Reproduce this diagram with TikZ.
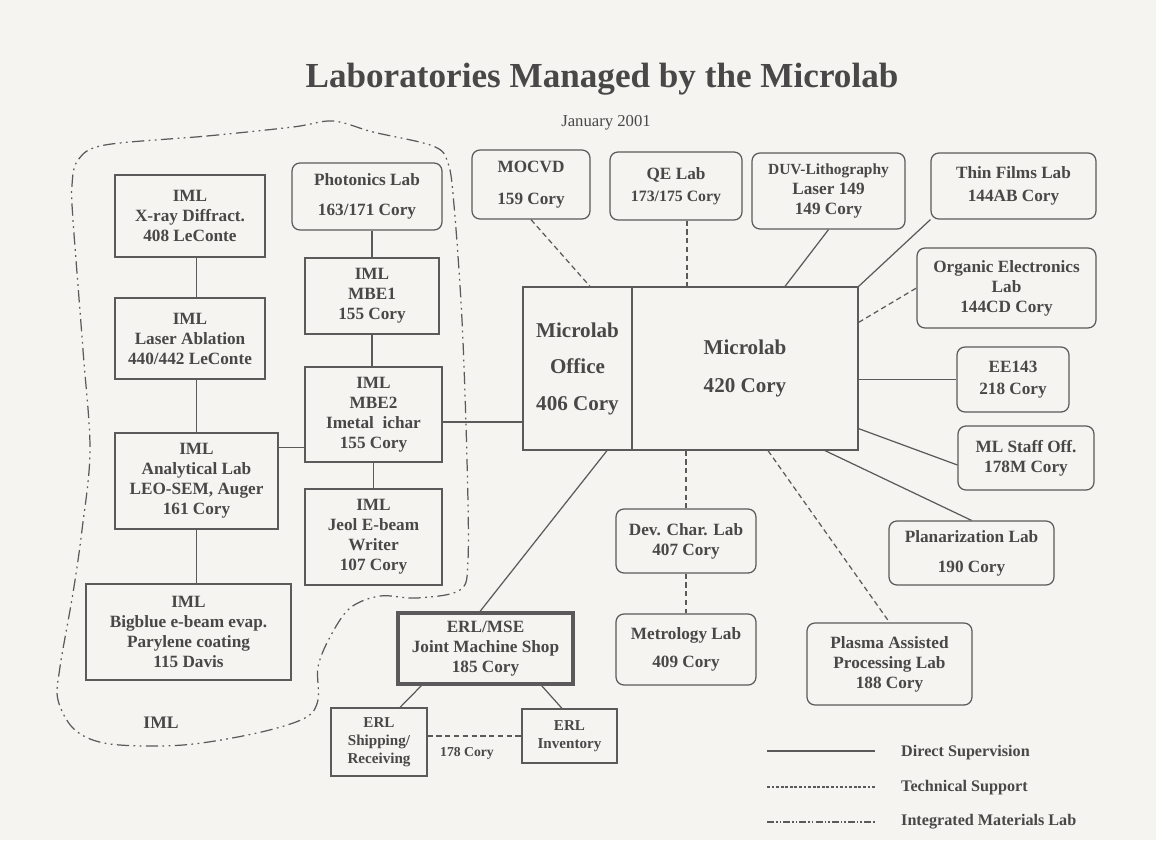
\documentclass[tikz,border=0pt]{standalone}
\usepackage{fontspec}
\setmainfont{Liberation Serif}
\definecolor{paper}{RGB}{245,244,240}
\definecolor{ink}{RGB}{72,72,72}
\definecolor{wire}{RGB}{90,90,90}

\tikzset{
  labbox/.style={draw=wire, line width=0.7pt, align=center, inner sep=0pt, text=ink,
    font=\fontsize{9.8}{11.4}\selectfont\bfseries},
  roombox/.style={labbox, rounded corners=4.5pt},
  smallbox/.style={labbox, font=\fontsize{8.6}{10.3}\selectfont\bfseries},
  direct/.style={draw=wire, line width=0.7pt},
  support/.style={draw=wire, line width=0.7pt, dash pattern=on 3pt off 2pt},
  imlline/.style={draw=wire, line width=0.7pt, dash pattern=on 7pt off 2.5pt on 1pt off 2.5pt on 1pt off 2.5pt},
  keytext/.style={text=ink, anchor=west, font=\fontsize{9.2}{11}\selectfont\bfseries},
}

\begin{document}
\begin{tikzpicture}[x=0.02cm, y=-0.02cm]
\fill[paper] (0,0) rectangle (1156,840);
\useasboundingbox (0,0) rectangle (1156,840);

% title
\node[anchor=base, text=ink, font=\fontsize{20}{24}\selectfont\bfseries] (title) at (602,87) {Laboratories Managed by the Microlab};
\node[anchor=base, text=ink, font=\fontsize{9.5}{11}\selectfont] (date) at (606,126) {January 2001};

% IML labs
\node[labbox, minimum width=3cm, minimum height=1.64cm] (xray) at (190,216) {IML\\X-ray Diffract.\\408 LeConte};
\node[labbox, minimum width=3cm, minimum height=1.62cm] (ablation) at (190,338.5) {IML\\Laser Ablation\\440/442 LeConte};
\node[labbox, minimum width=3.26cm, minimum height=1.92cm] (analyt) at (196.5,481) {IML\\Analytical Lab\\LEO-SEM, Auger\\161 Cory};
\node[labbox, minimum width=4.1cm, minimum height=1.92cm] (bigblue) at (188.5,632) {IML\\Bigblue e-beam evap.\\Parylene coating\\115 Davis};
\node[roombox, minimum width=3cm, minimum height=1.34cm] (photon) at (367,196.5) {Photonics Lab\\[5.7pt]163/171 Cory};
\node[labbox, minimum width=2.68cm, minimum height=1.52cm] (mbe1) at (372,296) {IML\\MBE1\\155 Cory};
\node[labbox, minimum width=2.74cm, minimum height=1.9cm] (mbe2) at (373.5,414.5) {IML\\MBE2\\Imetal~ ichar\\155 Cory};
\node[labbox, minimum width=2.74cm, minimum height=1.92cm] (jeol) at (373.5,537) {IML\\Jeol E-beam\\Writer\\107 Cory};
\node[text=ink, font=\fontsize{10}{12}\selectfont\bfseries] (imltag) at (161,723) {IML};

% ERL
\node[labbox, line width=1.8pt, minimum width=3.5cm, minimum height=1.42cm] (machine) at (485.5,648.5) {ERL/MSE\\Joint Machine Shop\\185 Cory};
\node[smallbox, minimum width=1.92cm, minimum height=1.36cm] (ship) at (379,742) {ERL\\Shipping/\\Receiving};
\node[smallbox, minimum width=1.9cm, minimum height=1.08cm] (invent) at (569.5,736) {ERL\\Inventory};

% Microlab
\node[labbox, font=\fontsize{12}{20.8}\selectfont\bfseries, minimum width=2.18cm, minimum height=3.26cm] (office) at (577.5,368.5) {Microlab\\Office\\406 Cory};
\node[labbox, font=\fontsize{12}{21.6}\selectfont\bfseries, minimum width=4.52cm, minimum height=3.26cm] (main) at (745,368.5) {Microlab\\420 Cory};

% labs round the Microlab
\node[roombox, minimum width=2.36cm, minimum height=1.38cm] (mocvd) at (531,184.5) {MOCVD\\[6.8pt]159 Cory};
\node[roombox, minimum width=2.64cm, minimum height=1.36cm] (qe) at (676,186) {QE Lab\\[1pt]\fontsize{9}{10}\selectfont 173/175 Cory};
\node[roombox, minimum width=3.06cm, minimum height=1.52cm] (duv) at (828.5,191) {\fontsize{8.8}{11}\selectfont DUV-Lithography\\\fontsize{9.8}{11.4}\selectfont Laser 149\\149 Cory};
\node[roombox, minimum width=3.3cm, minimum height=1.32cm] (thin) at (1013.5,186) {Thin Films Lab\\[1.7pt]144AB Cory};
\node[roombox, minimum width=3.58cm, minimum height=1.6cm] (organic) at (1006.5,288) {Organic Electronics\\Lab\\144CD Cory};
\node[roombox, minimum width=2.24cm, minimum height=1.3cm] (ee143) at (1013,379.5) {EE143\\[1pt]218 Cory};
\node[roombox, minimum width=2.72cm, minimum height=1.28cm] (staff) at (1026,458) {ML Staff Off.\\178M Cory};
\node[roombox, minimum width=3.3cm, minimum height=1.28cm] (planar) at (971.5,553) {Planarization Lab\\[5.7pt]190 Cory};
\node[roombox, minimum width=3.3cm, minimum height=1.64cm] (plasma) at (889.5,664) {Plasma Assisted\\Processing Lab\\188 Cory};
\node[roombox, minimum width=2.8cm, minimum height=1.28cm] (devchar) at (686,541) {Dev. Char. Lab\\407 Cory};
\node[roombox, minimum width=2.8cm, minimum height=1.42cm] (metro) at (686,649.5) {Metrology Lab\\[4.6pt]409 Cory};

% IML links
\draw[direct] (xray.south -| analyt.north) -- (ablation.north -| analyt.north);
\draw[direct] (ablation.south -| analyt.north) -- (analyt.north);
\draw[direct] (analyt.south) -- (analyt.south |- bigblue.north);
\draw[direct] (mbe1.north |- photon.south) -- (mbe1.north);
\draw[direct] (mbe1.south) -- (mbe1.south |- mbe2.north);
\draw[direct] (mbe2.south) -- (mbe2.south |- jeol.north);
\coordinate (ajoin) at ([yshift=-0.3cm]analyt.north east);
\draw[direct] (ajoin) -- (ajoin -| mbe2.west);
\coordinate (mjoin) at ([yshift=-0.15cm]mbe2.east);
\draw[direct] (mjoin) -- (mjoin -| office.west);

% Microlab links
\draw[support] (mocvd.south) -- ([xshift=0.25cm]office.north);
\coordinate (qfoot) at ([xshift=0.22cm]qe.south);
\draw[support] (qfoot) -- (qfoot |- main.north);
\draw[direct] (duv.south) -- ([xshift=0.8cm]main.north);
\draw[direct] (thin.south west) -- (main.north east);
\draw[support] ([yshift=-0.72cm]main.north east) -- (organic.west);
\draw[direct] (main.east |- ee143.west) -- (ee143.west);
\draw[direct] ([yshift=0.44cm]main.south east) -- ([yshift=-0.14cm]staff.west);
\draw[direct] ([xshift=1.6cm]main.south) -- (planar.north);
\draw[support] ([xshift=0.46cm]main.south) -- (plasma.north);
\draw[support] (devchar.north |- main.south) -- (devchar.north);
\draw[support] (devchar.south) -- (metro.north);

% ERL links
\draw[direct] ([xshift=0.59cm]office.south) -- ([xshift=-0.11cm]machine.north);
\draw[direct] ([xshift=0.5cm]machine.south west) -- ([xshift=0.42cm]ship.north);
\draw[direct] ([xshift=-0.66cm]machine.south east) -- ([xshift=-0.15cm]invent.north);
\draw[support] (ship.east |- invent.west) -- node[midway, below=3pt, xshift=-0.15cm, text=ink, font=\fontsize{7.8}{9}\selectfont\bfseries] (lbl178) {178 Cory} (invent.west);

% IML boundary
\draw[imlline] plot[smooth cycle, tension=0.55] coordinates {
  (105,145) (207,136) (293,127) (333,121) (373,132) (433,146) (448,163) (454,205)
  (462,320) (467,460) (468,560) (460,590) (417,598) (380,596) (350,608) (330,637)
  (318,667) (318,700) (305,718) (257,733) (183,745) (110,744) (75,730) (58,700)
  (60,667) (73,593) (82,530) (90,450) (83,350) (73,220) (72,185) (78,160)};

% key
\coordinate (keyA) at (767,751); \coordinate (keyB) at (875,751);
\coordinate (keyC) at (767,787); \coordinate (keyD) at (876,787);
\coordinate (keyE) at (767,822); \coordinate (keyF) at (876,822);
\draw[direct] (keyA) -- (keyB);
\draw[draw=wire, line width=0.7pt, dash pattern=on 1.6pt off 1pt] (keyC) -- (keyD);
\draw[draw=wire, line width=0.7pt, dash pattern=on 4pt off 1.2pt on 0.8pt off 1.2pt on 0.8pt off 1.2pt] (keyE) -- (keyF);
\node[keytext] (keydirect) at (895,753) {Direct Supervision};
\node[keytext] (keysupport) at (895,788) {Technical Support};
\node[keytext] (keyiml) at (895,822) {Integrated Materials Lab};
\end{tikzpicture}
\end{document}
